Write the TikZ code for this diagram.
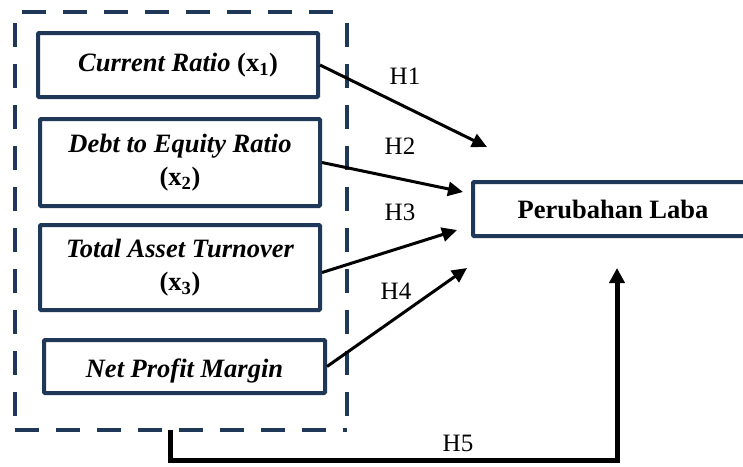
\documentclass[tikz,border=0pt]{standalone}
\usepackage{fontspec}
\setmainfont{Liberation Serif}
\usetikzlibrary{arrows.meta}
\definecolor{navy}{RGB}{31,56,88}
\tikzset{
  varbox/.style={draw=navy, line width=4pt, rectangle, rounded corners=1pt, minimum width=280pt, align=center,
    font=\fontsize{26.5}{33}\selectfont\bfseries\itshape, inner sep=0pt},
  groupbox/.style={rectangle, minimum width=332pt, minimum height=418pt, inner sep=0pt},
  dashside/.style={draw=navy, line width=4.5pt, dash pattern=on 24pt off 17pt},
  hyp/.style={line width=3pt, -{Triangle[length=15pt,width=14pt]}},
  hlabel/.style={font=\fontsize{25}{30}\selectfont},
}
\begin{document}
\begin{tikzpicture}[x=1pt,y=-1pt]
\useasboundingbox (0,0) rectangle (743,466);
\fill[white] (0,0) rectangle (743,466);
% group
\node[groupbox] (grp) at (181,221) {};
\draw[dashside, dash phase=34pt] (grp.north west) -- (grp.north east);
\draw[dashside, dash phase=30pt] (grp.north west) -- (grp.south west);
\draw[dashside] (grp.south west) -- (grp.south east);
\draw[dashside, dash phase=30pt] (grp.north east) -- (grp.south east);
% variable boxes
\node[varbox, minimum height=64pt] (b1) at (178,65) {Current Ratio \upshape(x\textsubscript{1})};
\node[varbox, minimum height=87pt] (b2) at (180,162.5) {Debt to Equity Ratio\\\upshape(x\textsubscript{2})};
\node[varbox, minimum height=85pt] (b3) at (180,267.5) {Total Asset Turnover\\\upshape(x\textsubscript{3})};
\node[varbox, minimum height=53pt, minimum width=281pt, text depth=0pt] (b4) at (184.5,366.5) {\raisebox{-4pt}{Net Profit Margin}};
% dependent
\node[varbox, minimum height=54pt, font=\fontsize{26.5}{30}\selectfont\bfseries] (y) at (613,209) {Perubahan Laba};
% arrow tips
\coordinate (t1) at (487,147);
\coordinate (t2) at (463,192);
\coordinate (t3) at (457,230);
\coordinate (t4) at (467,268);
\coordinate (t5) at (617,268);
\coordinate (s5) at (170,430);
\coordinate (c5) at (170,460);
\draw[hyp] (b1.east) -- (t1);
\draw[hyp] (b2.east) -- (t2);
\draw[hyp] ([yshift=-5pt]b3.east) -- (t3);
\draw[hyp] (b4.east) -- (t4);
\draw[line width=5pt, -{Triangle[length=15pt,width=15pt]}] (s5) -- (c5) -| (t5);
% labels
\node[hlabel] (l1) at (405,76) {H1};
\node[hlabel] (l2) at (400,146) {H2};
\node[hlabel] (l3) at (400,212) {H3};
\node[hlabel] (l4) at (396,291) {H4};
\node[hlabel] (l5) at (458,443) {H5};
\end{tikzpicture}
\end{document}
